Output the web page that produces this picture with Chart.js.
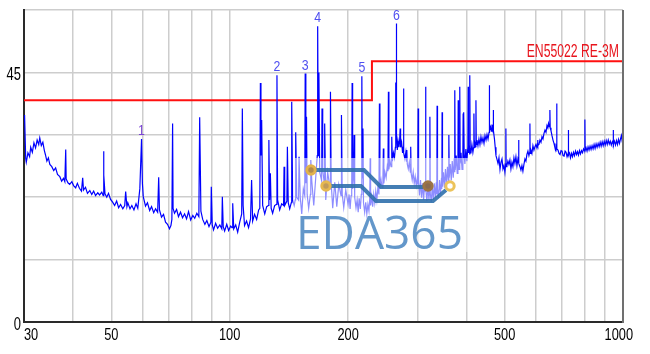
<!DOCTYPE html>
<html>
<head>
<meta charset="utf-8">
<script src="https://cdn.jsdelivr.net/npm/chart.js@4.4.1/dist/chart.umd.min.js"></script>
<style>
html,body{margin:0;padding:0;background:#fff;}
canvas{display:block;}
</style>
</head>
<body>
<canvas id="c" width="650" height="354"></canvas>
<script>
// ---- DATA ----
// Measured spectrum: [frequency MHz, level dBuV/m]
const tracePoints = [
[30.0,36.5],[30.1,37.3],[30.3,29.5],[30.4,28.8],[30.7,30.5],[31.0,29.8],[31.2,31.5],[31.5,30.6],[31.8,32.3],[32.1,31.4],[32.4,32.8],[32.7,32.0],[32.9,33.2],[33.2,31.8],[33.5,32.4],[33.8,30.9],[34.0,30.2],[34.3,29.0],[34.6,29.6],[34.9,28.4],[35.3,28.0],[35.7,27.3],[36.1,27.8],[36.5,26.6],[37.0,26.2],[37.4,25.4],[37.8,25.9],[38.1,25.3],[38.3,31.1],[38.4,25.8],[38.8,25.1],[39.2,24.8],[39.7,25.3],[40.1,24.6],[40.6,24.2],[41.0,25.0],[41.5,24.1],[42.0,23.6],[42.3,26.0],[42.5,23.8],[43.0,24.3],[43.5,23.2],[44.1,23.7],[44.6,23.0],[45.1,23.6],[45.6,22.8],[46.2,23.3],[46.7,22.9],[47.3,23.4],[47.7,22.8],[47.8,30.8],[47.9,26.5],[48.2,23.1],[48.7,22.5],[49.2,23.2],[49.8,22.1],[50.4,21.6],[51.0,21.0],[51.6,21.8],[52.2,20.6],[52.8,21.2],[53.5,20.4],[54.1,21.0],[54.4,23.5],[54.8,20.8],[55.1,21.5],[55.8,20.4],[56.4,21.0],[57.1,20.2],[57.8,21.3],[58.4,20.5],[59.1,24.0],[59.7,33.0],[60.0,25.0],[60.3,22.6],[61.1,20.9],[61.8,21.5],[62.6,20.1],[63.3,20.8],[64.1,19.7],[64.8,20.4],[65.6,19.8],[66.0,26.1],[66.3,20.2],[67.1,18.9],[67.9,19.4],[68.7,18.0],[69.5,17.6],[70.3,16.8],[70.9,17.4],[71.3,18.5],[71.6,35.8],[71.8,20.5],[72.4,19.6],[73.3,20.3],[74.1,19.0],[75.0,19.8],[75.9,18.8],[76.8,19.5],[77.7,18.6],[78.6,19.9],[79.6,18.4],[80.6,19.2],[81.5,18.7],[82.5,19.6],[83.5,19.0],[83.9,36.9],[84.5,20.0],[85.4,18.5],[86.5,17.6],[87.5,18.3],[88.6,17.2],[89.6,18.0],[89.8,24.4],[90.3,17.5],[91.0,16.6],[92.1,17.8],[93.2,16.9],[94.4,17.5],[95.5,16.8],[95.8,22.6],[96.3,17.2],[97.1,16.4],[98.3,17.6],[99.4,16.5],
[100.6,17.3],[101.4,17.0],[101.8,21.4],[102.4,16.8],[103.6,17.5],[104.8,16.2],[106.0,17.9],[107.3,19.5],[107.7,38.5],[108.2,21.0],[109.1,17.4],[110.4,18.2],[111.7,17.0],[113.0,18.6],[113.7,25.6],[114.4,18.2],[115.7,19.4],[117.1,18.5],[118.5,20.2],[119.3,20.5],[119.7,43.1],[120.1,30.0],[120.6,36.4],[121.3,21.0],[122.8,19.5],[124.2,20.8],[125.4,21.0],[125.8,32.8],[126.3,22.0],[126.9,26.8],[127.5,20.5],[128.6,19.6],[130.1,21.0],[131.5,21.2],[131.9,44.5],[132.4,22.0],[134.0,20.2],[135.6,21.3],[137.1,21.0],[137.5,28.0],[138.0,21.0],[139.8,21.8],[140.2,31.6],[140.9,21.5],[142.1,20.4],[143.4,21.5],[143.8,39.7],[144.6,22.0],[145.9,21.0],[146.8,22.0],[147.2,34.2],[148.1,22.5],[149.7,22.0],[150.1,29.8],[151.2,22.4],[152.5,19.5],[153.9,24.0],[155.2,22.8],[155.6,44.8],[156.2,25.0],[156.8,37.0],[157.4,23.0],[158.8,20.5],[160.4,23.0],[160.8,29.2],[161.7,25.5],[163.6,21.0],[165.5,26.0],[167.0,30.0],[167.4,53.3],[168.0,30.0],[168.6,45.0],[169.4,27.0],[171.3,25.5],[171.7,38.5],[172.4,27.5],[174.0,25.0],[174.4,35.8],[175.5,22.0],[177.5,27.0],[180.0,24.0],[180.4,41.5],[181.2,25.0],[182.8,20.5],[185.0,25.2],[187.2,20.8],[189.4,24.8],[191.9,22.8],[192.4,37.3],[193.3,23.0],[195.0,20.6],[197.3,23.8],
[200.0,21.2],[201.2,23.0],[202.4,20.4],[203.6,22.8],[204.3,23.5],[204.8,43.1],[205.4,24.0],[206.4,26.0],[207.2,33.7],[207.9,22.5],[209.5,20.6],[210.9,22.0],[212.2,19.8],[213.4,22.3],[214.9,20.4],[216.1,23.0],[216.8,44.3],[217.4,26.0],[218.2,34.9],[218.9,21.5],[220.4,19.8],[221.8,21.6],[223.2,19.5],[224.6,21.2],[226.0,20.0],[227.1,22.5],[227.6,29.5],[228.2,21.0],[229.6,22.6],[231.0,20.8],[232.4,23.0],[233.8,21.5],[235.2,23.6],[236.7,22.0],[238.2,24.4],[239.6,23.0],[240.3,39.4],[241.0,24.0],[242.6,25.6],[244.1,24.2],[245.3,26.0],[245.9,31.3],[246.6,25.0],[248.2,27.0],[249.9,26.0],[251.5,28.0],[252.6,27.2],[253.3,41.5],[254.0,27.5],[255.6,29.0],[257.2,28.0],[258.3,33.4],[259.2,29.0],[260.8,30.5],[262.4,29.6],[263.8,31.5],[264.4,43.2],[264.9,36.0],[265.3,53.8],[265.8,34.0],[266.8,31.0],[268.0,32.6],[269.4,31.5],[270.6,33.0],[271.3,34.9],[272.0,31.5],[273.6,32.4],[275.2,30.5],[276.0,31.6],[276.6,42.1],[277.3,30.5],[278.9,29.4],[280.5,30.6],[281.6,29.0],[282.1,31.0],[282.8,28.5],[284.5,27.6],[286.2,28.8],[287.9,27.0],[288.6,31.6],[289.4,26.8],[291.1,25.6],[292.8,27.0],[294.6,25.0],[296.3,26.2],[298.1,24.6],[299.8,25.8],[300.6,24.8],[301.4,38.5],[302.2,25.2],[303.9,22.8],[305.7,25.6],[307.5,22.4],[309.3,25.0],[311.2,22.0],[313.0,24.8],[314.2,23.6],[314.8,42.4],[315.5,24.0],[317.3,21.8],[319.2,24.6],[321.1,22.0],[322.3,23.8],[322.9,37.0],[323.6,23.2],[325.5,21.6],[327.4,24.5],[329.4,22.0],[331.3,25.0],[333.3,22.5],[335.2,25.2],[336.2,23.0],[336.8,39.0],[337.6,24.0],[339.6,22.4],[341.6,25.6],[343.6,23.0],[345.6,26.0],[346.2,24.0],[346.8,37.8],[347.6,24.4],[349.6,27.0],[351.6,24.2],[353.7,27.6],[355.8,24.6],[357.9,28.0],[360.1,25.2],[360.8,33.7],[361.6,26.0],[363.7,28.5],[365.9,25.5],[368.0,29.0],[370.2,26.0],[372.4,29.5],[373.3,27.0],[373.8,41.8],[374.5,27.4],[376.7,30.0],[378.9,26.8],[380.5,29.5],[381.1,40.0],[381.8,28.0],[383.0,27.5],[384.3,28.2],[384.9,42.4],[385.6,28.6],[387.4,30.5],[389.7,27.5],[391.7,30.8],[392.3,37.6],[393.0,29.5],[394.0,37.8],[394.7,30.0],[396.3,28.5],[398.6,31.2],[400.9,29.0],[403.3,31.6],[404.0,42.4],[404.7,30.5],[406.9,31.8],[407.5,30.2],[408.1,44.5],[408.8,31.2],[410.5,30.4],[412.9,32.0],[415.3,30.6],[416.9,31.4],[417.8,37.6],[418.6,31.5],[420.3,32.2],[422.1,31.6],[422.8,40.0],[423.6,32.0],[425.3,32.8],[427.8,31.8],[430.3,33.0],[432.8,32.0],[435.4,33.4],[438.0,32.4],[440.6,33.2],[443.2,32.2],[445.8,33.6],[448.5,32.8],[451.1,33.8],[453.8,33.0],[456.5,34.2],[457.2,42.7],[458.0,34.6],[460.4,35.2],[462.4,34.4],[464.4,35.6],[466.4,34.8],[467.3,35.5],[467.9,38.2],[468.7,34.5],[471.2,33.0],[473.3,31.5],[475.4,30.0],[477.9,29.4],
[481.0,28.6],[483.8,29.6],[486.7,27.5],[489.5,28.8],[492.4,29.4],[495.3,27.6],[498.2,28.2],[501.0,27.0],[503.2,28.5],[503.8,34.9],[504.5,28.0],[506.8,28.2],[509.8,29.0],[512.8,28.4],[515.8,29.2],[518.9,27.6],[522.0,28.8],[525.0,28.0],[528.1,29.6],[531.2,28.6],[534.3,29.8],[537.5,28.2],[540.6,29.4],[542.3,29.0],[542.9,32.8],[543.6,28.6],[547.0,28.0],[550.2,27.4],[553.4,28.2],[556.6,27.2],[559.9,28.4],[563.2,29.4],[566.5,29.0],[569.8,30.2],[573.2,30.8],[576.5,30.0],[579.2,30.6],[579.9,35.8],[580.6,30.4],[583.3,31.0],[586.7,30.4],[590.2,31.8],[593.7,31.0],[597.2,31.6],[600.7,32.0],[604.2,31.4],[606.1,32.0],[606.8,32.8],[607.6,31.8],[611.4,32.0],[615.0,32.8],[618.7,32.4],[622.3,33.4],[626.0,33.0],[629.7,34.0],[633.3,34.6],[637.1,34.2],[640.8,35.4],[644.0,35.0],[646.5,35.8],[649.5,35.2],[651.4,36.0],[652.2,38.2],[653.0,35.0],[656.0,34.5],[659.9,33.6],[663.8,32.8],[667.7,32.2],[671.6,31.4],[675.5,31.0],[677.6,31.8],[678.4,39.4],[679.2,31.2],[683.6,31.0],[687.6,30.4],[691.7,30.2],[695.8,30.9],[700.0,30.8],[704.1,30.0],[708.3,29.9],[712.5,30.8],[716.6,30.6],[720.8,29.8],[725.4,30.4],[726.3,34.6],[727.2,30.2],[731.4,30.5],[735.5,29.6],[739.8,30.4],[744.1,29.8],[748.4,30.6],[752.8,30.0],[757.2,30.8],[761.6,30.2],[766.1,30.7],[770.6,30.1],[775.1,30.9],[779.7,30.3],[784.3,30.9],[788.9,30.5],[793.6,31.2],[799.0,30.8],[800.0,36.5],[801.2,30.9],[805.5,31.4],[810.2,30.8],[815.0,31.6],[819.8,31.0],[824.6,31.7],[829.5,31.1],[834.4,31.8],[839.3,31.2],[844.3,32.0],[849.3,31.3],[854.3,32.1],[859.4,31.5],[864.5,32.2],[869.6,31.6],[874.8,32.4],[880.0,31.7],[885.2,32.5],[890.5,31.8],[895.8,32.6],[901.1,31.9],[906.5,32.7],[911.9,32.0],[917.3,32.8],[922.8,32.1],[928.3,32.6],[933.8,31.9],[939.4,32.5],[943.7,32.2],[944.6,34.6],[945.5,32.0],[951.0,32.6],[956.7,31.9],[962.4,32.7],[968.1,32.0],[973.9,32.9],[979.7,32.2],[985.6,33.0],[990.6,33.6],[995.3,32.6],[1000.0,32.8]
];

// Limit line EN55022 RE-3M
const limitName = 'EN55022 RE-3M';
const limitFreq = [30, 230, 230, 1000];
const limitLevel = [40, 40, 47, 47];

// Marked peaks
const markerLabels = ['1', '2', '3', '4', '5', '6'];
const markerFreq = [59.7, 131.9, 155.6, 167.4, 216.8, 265.3];
const markerLevel = [33.0, 44.5, 44.8, 53.3, 44.3, 53.8];

// Axes
const xGridVals = [30, 40, 50, 60, 70, 80, 90, 100, 200, 300, 400, 500, 600, 700, 800, 900, 1000];
const xLabelVals = [30, 50, 100, 200, 500, 1000];
const yGridVals = [0, 11.25, 22.5, 33.75, 45, 56.25];
const yLabelVals = [0, 45];

// ---- CHART ----
const FONT = '"Liberation Sans", Arial, sans-serif';

function drawText(c, t, x, y, size, sx, align, color) {
  c.save();
  c.font = size + 'px ' + FONT;
  c.fillStyle = color;
  c.textAlign = align;
  c.textBaseline = 'alphabetic';
  c.translate(x, y);
  c.scale(sx, 1);
  c.fillText(t, 0, 0);
  c.restore();
}

const decor = {
  id: 'decor',
  afterDatasetsDraw(chart) {
    const c = chart.ctx;
    c.save();
    // watermark (EDA365 logo)
    c.fillStyle = 'rgba(255,255,255,0.55)';
    c.fillRect(293, 158, 175, 94);
    c.strokeStyle = 'rgba(48,112,172,0.9)';
    c.lineWidth = 4;
    c.lineJoin = 'miter';
    c.beginPath(); c.moveTo(316, 170); c.lineTo(364, 170); c.lineTo(381, 187); c.lineTo(423, 187); c.stroke();
    c.beginPath(); c.moveTo(331, 186); c.lineTo(361, 186); c.lineTo(376, 201); c.lineTo(433, 201); c.lineTo(446, 190); c.stroke();
    const rings = [[311, 170, '#e2b24c', '#b08a50'], [326, 186, '#e6b850', '#c09a5c'], [428, 186, '#9c7446', '#8a6a50'], [450, 186, '#ecc35a', '#ffffff']];
    rings.forEach(r => {
      c.beginPath(); c.arc(r[0], r[1], 4.2, 0, Math.PI * 2);
      c.fillStyle = r[3]; c.fill();
      c.lineWidth = 3; c.strokeStyle = r[2]; c.stroke();
    });
    c.font = '46px "Open Sans", "Liberation Sans", sans-serif';
    c.fillStyle = 'rgba(86,142,198,0.92)';
    c.textBaseline = 'alphabetic';
    c.textAlign = 'left';
    c.fillText('EDA365', 296, 249);
    c.restore();
  },
  afterDraw(chart) {
    const c = chart.ctx;
    const xs = chart.scales.x, ys = chart.scales.y, a = chart.chartArea;
    // right border
    c.save();
    c.strokeStyle = '#707070';
    c.lineWidth = 2;
    c.beginPath(); c.moveTo(a.right, a.top); c.lineTo(a.right, a.bottom + 1); c.stroke();
    c.restore();
    // x labels
    xLabelVals.forEach(v => {
      const px = xs.getPixelForValue(v);
      c.save(); c.font = '16px ' + FONT;
      const w = c.measureText(String(v)).width * 0.8;
      c.restore();
      let left = px - w / 2;
      left = Math.max(left, a.left);
      left = Math.min(left, a.right + 10 - w);
      drawText(c, String(v), left, a.bottom + 18, 16, 0.8, 'left', '#000');
    });
    // y labels
    yLabelVals.forEach(v => {
      const py = ys.getPixelForValue(v);
      drawText(c, String(v), a.left - 3, py + 8, 18, 0.72, 'right', '#000');
    });
    // limit label
    drawText(c, limitName, a.right - 4, ys.getPixelForValue(limitLevel[limitLevel.length - 1]) - 4, 18.5, 0.66, 'right', '#e8141c');
    // marker labels
    markerLabels.forEach((t, i) => {
      const px = xs.getPixelForValue(markerFreq[i]);
      const py = ys.getPixelForValue(markerLevel[i]);
      drawText(c, t, px, py - 4, 14.5, 0.85, 'center', i === 0 ? '#7a44d4' : '#4f4ff0');
    });
  }
};

const gridStyle = { color: '#cdcdcd', lineWidth: 1.5, drawTicks: false };

new Chart(document.getElementById('c'), {
  type: 'line',
  data: {
    datasets: [
      {
        label: 'Level',
        data: tracePoints.map(p => ({ x: p[0], y: p[1] })),
        borderColor: '#0000ff',
        borderWidth: 1.2,
        pointRadius: 0,
        tension: 0,
        fill: false
      },
      {
        label: limitName,
        data: limitFreq.map((f, i) => ({ x: f, y: limitLevel[i] })),
        borderColor: '#ff1010',
        borderWidth: 2,
        pointRadius: 0,
        tension: 0,
        fill: false
      }
    ]
  },
  options: {
    responsive: false,
    animation: false,
    devicePixelRatio: 1,
    layout: { padding: { top: 10, right: 27, left: 0, bottom: 0 } },
    plugins: { legend: { display: false }, tooltip: { enabled: false } },
    scales: {
      x: {
        type: 'logarithmic',
        min: 30,
        max: 1000,
        afterBuildTicks: s => { s.ticks = xGridVals.map(v => ({ value: v })); },
        afterFit: s => { s.height = 32; },
        ticks: { display: false },
        grid: gridStyle,
        border: { color: '#2a2a2a', width: 2 }
      },
      y: {
        type: 'linear',
        min: 0,
        max: 56.25,
        afterBuildTicks: s => { s.ticks = yGridVals.map(v => ({ value: v })); },
        afterFit: s => { s.width = 24; },
        ticks: { display: false },
        grid: gridStyle,
        border: { color: '#2a2a2a', width: 2 }
      }
    }
  },
  plugins: [decor]
});
</script>
</body>
</html>
